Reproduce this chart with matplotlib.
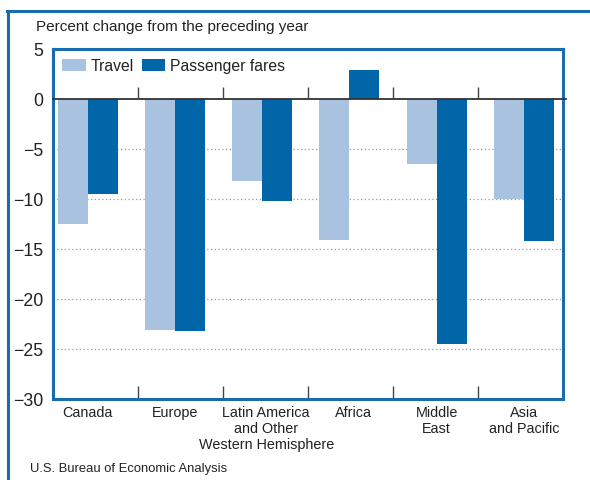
import numpy as np
import matplotlib
matplotlib.use("Agg")
import matplotlib.pyplot as plt
from matplotlib.lines import Line2D
from matplotlib.transforms import ScaledTranslation

# ---------------------------------------------------------
# DATA
# ---------------------------------------------------------
regions = ["Canada", "Europe", "Latin America\nand Other\nWestern Hemisphere",
           "Africa", "Middle\nEast", "Asia\nand Pacific"]
travel = [-12.5, -23.1, -8.2, -14.1, -6.5, -10.0]
passenger_fares = [-9.5, -23.2, -10.2, 2.9, -24.5, -14.2]
y_ticks = [5, 0, -5, -10, -15, -20, -25, -30]

# ---------------------------------------------------------
# STYLE
# ---------------------------------------------------------
plt.rcParams["font.family"] = ["Liberation Sans", "DejaVu Sans"]
light_blue = "#a8c2e0"
dark_blue = "#0066a8"
frame_blue = "#1a6cb0"
text_col = "#222222"

W, H = 590, 481
fig = plt.figure(figsize=(W / 100, H / 100), dpi=100)

# axes box in pixels: left 53, right 563, top 50, bottom 400
ax = fig.add_axes([53 / W, 1 - 400 / H, 510 / W, 350 / H])

x = np.arange(len(regions))
bw = 0.344
ax.bar(x - bw / 2, travel, bw, color=light_blue, label="Travel", zorder=3)
ax.bar(x + bw / 2, passenger_fares, bw, color=dark_blue, label="Passenger fares", zorder=3)

x_lo, x_hi = -0.40, 5.45
ax.set_xlim(x_lo, x_hi)
ax.set_ylim(-30, 5)

# grid + zero line
for yv in y_ticks:
    if -30 < yv < 0:
        ax.axhline(yv, color="#999999", lw=0.9, ls=(0, (1, 2)), zorder=1)
ax.axhline(0, color="#333333", lw=1.3, zorder=4, clip_on=False, xmax=1.005)

# divider ticks (evenly spaced sixths of the axis)
div_x = [x_lo + (x_hi - x_lo) * k / 6 for k in range(1, 6)]
ax.vlines(div_x, 0, 1.2, color="#444444", lw=1.0, zorder=4)

# y axis
ax.set_yticks(y_ticks)
ax.set_yticklabels([f"{v:d}".replace("-", "\u2212") for v in y_ticks])
ax.tick_params(axis="y", length=0, pad=7, labelsize=12.8, labelcolor=text_col)

# x axis: labels at bar groups, minor ticks at dividers
ax.set_xticks(x)
ax.set_xticklabels(regions, linespacing=1.2)
ax.tick_params(axis="x", which="major", length=0, pad=4, labelsize=10.4, labelcolor=text_col)
ax.set_xticks(div_x, minor=True)
ax.tick_params(axis="x", which="minor", direction="in", length=9.5, width=1.0, color="#444444")

# a couple of labels sit a little right of their bars in the original
for i in (2, 3):
    lbl = ax.get_xticklabels()[i]
    lbl.set_transform(lbl.get_transform() + ScaledTranslation(0.04, 0, fig.dpi_scale_trans))

for s in ax.spines.values():
    s.set_color(frame_blue)
    s.set_linewidth(2.2)

leg = ax.legend(loc="upper left", bbox_to_anchor=(0.0, 1.0), ncol=2, frameon=False,
                fontsize=11.3, handlelength=1.5, handleheight=0.75,
                handletextpad=0.3, columnspacing=0.5, borderaxespad=0.4,
                borderpad=0.2)
for t in leg.get_texts():
    t.set_color(text_col)

# outer frame lines
fig.add_artist(Line2D([7 / W, 1.0], [1 - 12 / H, 1 - 12 / H], color=frame_blue, lw=2.2,
                      transform=fig.transFigure))
fig.add_artist(Line2D([8 / W, 8 / W], [1 - 12 / H, 0.0], color=frame_blue, lw=2.2,
                      transform=fig.transFigure))

fig.text(36 / W, 1 - 27 / H, "Percent change from the preceding year", fontsize=11,
         color=text_col, va="center", ha="left")
fig.text(30 / W, 1 - 469 / H, "U.S. Bureau of Economic Analysis", fontsize=9.4,
         color=text_col, va="center", ha="left")

fig.savefig("out.png", dpi=100)
